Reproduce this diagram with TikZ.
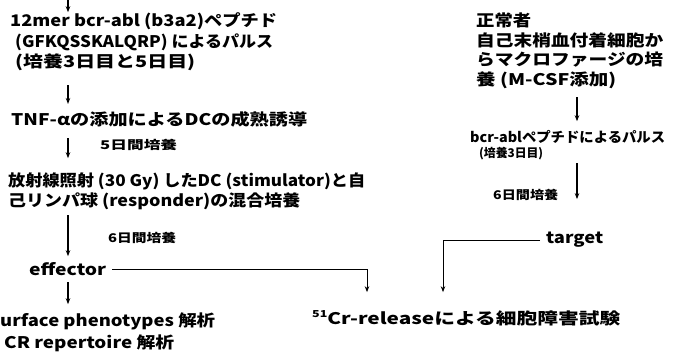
\documentclass[tikz,border=0pt]{standalone}
\usepackage{fontspec}
\setmainfont{Noto Sans CJK JP}
\usetikzlibrary{arrows.meta}
\newcommand{\fitw}[2]{\resizebox{#1pt}{\height}{#2}}
\begin{document}
\begin{tikzpicture}[x=1pt,y=-1pt,
  txt/.style={anchor=west, inner sep=0pt, font=\bfseries\fontsize{16}{18}\selectfont},
  mid/.style={anchor=west, inner sep=0pt, font=\bfseries\fontsize{14}{16}\selectfont},
  sm/.style={anchor=west, inner sep=0pt, font=\bfseries\fontsize{12}{14}\selectfont},
  arr/.style={-{Stealth[length=6pt,width=4.5pt]}, line width=1.1pt},
  conn/.style={-{Stealth[length=6pt,width=4.5pt]}, line width=0.9pt}]
\fill[white] (0,0) rectangle (674,359);
\useasboundingbox (0,0) rectangle (674,359);
% left column
\node[txt] (L1) at (10,21) {\fitw{267}{12mer bcr-abl (b3a2)ペプチド}};
\node[txt] (L2) at (15,42) {\fitw{258}{(GFKQSSKALQRP) によるパルス}};
\node[txt] (L3) at (15,62) {\fitw{180}{(培養3日目と5日目)}};
\node[txt] (L4) at (11,119) {\fitw{296}{TNF-αの添加によるDCの成熟誘導}};
\node[sm] (d5) at (100,145) {\fitw{77}{5日間培養}};
\node[txt] (L5) at (8,181) {\fitw{357}{放射線照射 (30 Gy) したDC (stimulator)と自}};
\node[txt] (L6) at (8,201) {\fitw{292}{己リンパ球 (responder)の混合培養}};
\node[sm] (d6) at (108,238) {\fitw{68}{6日間培養}};
\node[txt] (eff) at (29,269) {\fitw{77}{effector}};
\node[txt] (sp) at (0,321) {\fitw{215}{urface phenotypes 解析}};
\node[txt] (tcr) at (4,343) {\fitw{170}{CR repertoire 解析}};
% right column
\node[txt] (R1) at (476,20) {\fitw{55}{正常者}};
\node[txt] (R2) at (476,40) {\fitw{187}{自己末梢血付着細胞か}};
\node[txt] (R3) at (476,60) {\fitw{187}{らマクロファージの培}};
\node[txt] (R4) at (476,80) {\fitw{140}{養 (M-CSF添加)}};
\node[mid] (R5) at (470,137) {\fitw{195}{bcr-ablペプチドによるパルス}};
\node[sm] (R6) at (479,154) {\fitw{64}{(培養3日目)}};
\node[sm] (d6r) at (493,195) {\fitw{65}{6日間培養}};
\node[txt] (tgt) at (546,240) {\fitw{57}{target}};
\node[txt] (cr) at (312,318) {\fitw{308}{\raisebox{0.7ex}{\scalebox{0.6}{51}}Cr-releaseによる細胞障害試験}};
% arrows left
\coordinate (a0) at (68,0);
\coordinate (a1) at (68,85);
\coordinate (a2) at (68,138);
\coordinate (a3) at (68,215);
\coordinate (a4) at (68,282);
\draw[arr] (a0) -- (L1.north -| a0);
\draw[arr, shorten >=7pt] (a1) -- (L4.north -| a1);
\draw[arr, shorten >=14pt] (a2) -- (L5.north -| a2);
\draw[arr, shorten >=6pt] (a3) -- (eff.north -| a3);
\draw[arr, shorten >=8pt] (a4) -- (sp.north -| a4);
% arrows right
\coordinate (b1) at (577,97);
\coordinate (b2) at (577,163);
\draw[arr, shorten >=9pt] (b1) -- (R5.north -| b1);
\draw[arr, shorten >=33pt] (b2) -- (tgt.north -| b2);
% connectors to the assay
\coordinate (ec) at (367,269);
\coordinate (tc) at (443,240);
\draw[conn, shorten >=18pt] ([xshift=6pt]eff.east) -- (ec) -- (ec |- cr.north);
\draw[conn, shorten >=18pt] ([xshift=-6pt]tgt.west) -- (tc) -- (tc |- cr.north);
\end{tikzpicture}
\end{document}
